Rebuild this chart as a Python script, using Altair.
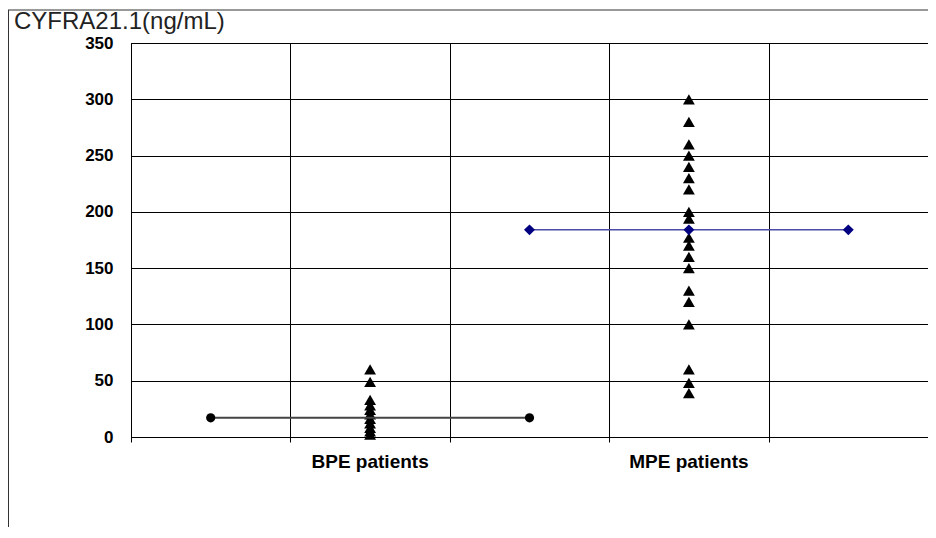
import altair as alt
import pandas as pd

# ---- data ----
groups = ["BPE patients", "MPE patients"]
group_pos = [1.5, 3.5]
bpe_values = [60, 49, 33, 28, 24, 20, 16, 12, 8, 5, 2]
mpe_values = [300, 280, 260, 250, 240, 230, 220, 200, 194, 177, 170, 160,
              150, 130, 120, 100, 60, 48, 39]
bpe_line_x = [0.5, 2.5]
bpe_line_y = [17, 17]
mpe_line_x = [2.5, 3.5, 4.5]
mpe_line_y = [184, 184, 184]
y_ticks = [0, 50, 100, 150, 200, 250, 300, 350]
x_ticks = [0, 1, 2, 3, 4, 5]
y_title = "CYFRA21.1(ng/mL)"

W, H = 797, 394

pts = pd.DataFrame({
    "x": [group_pos[0]] * len(bpe_values) + [group_pos[1]] * len(mpe_values),
    "y": bpe_values + mpe_values,
})
bpe_df = pd.DataFrame({"x": bpe_line_x, "y": bpe_line_y})
mpe_df = pd.DataFrame({"x": mpe_line_x, "y": mpe_line_y})
lab_df = pd.DataFrame({"x": group_pos, "label": groups})
one = pd.DataFrame({"a": [0]})

xscale = alt.Scale(domain=[0, 5], nice=False, zero=False)
yscale = alt.Scale(domain=[0, 350], nice=False)

xaxis = alt.Axis(values=x_ticks, labels=False, title=None, grid=True,
                 gridColor="black", gridWidth=1, tickSize=5, tickColor="black",
                 domainColor="black")
yaxis = alt.Axis(values=y_ticks, title=None, grid=True, gridColor="black",
                 gridWidth=1, tickSize=0, domainColor="black", labelPadding=18,
                 labelFont="Liberation Sans", labelFontWeight="bold",
                 labelFontSize=17, labelColor="black")

base_x = alt.X("x:Q", scale=xscale, axis=xaxis)
base_y = alt.Y("y:Q", scale=yscale, axis=yaxis)

tri = alt.Chart(pts).mark_point(shape="triangle-up", filled=True, color="black",
                                size=140, opacity=1).encode(x=base_x, y=base_y)

bpe_line = alt.Chart(bpe_df).mark_line(color="#444444", strokeWidth=2).encode(
    x=alt.X("x:Q", scale=xscale), y=alt.Y("y:Q", scale=yscale))
bpe_pts = alt.Chart(bpe_df).mark_point(shape="circle", filled=True, color="black",
                                       size=85, opacity=1).encode(
    x=alt.X("x:Q", scale=xscale), y=alt.Y("y:Q", scale=yscale))

mpe_line = alt.Chart(mpe_df).mark_line(color="#4b4ba8", strokeWidth=1.5).encode(
    x=alt.X("x:Q", scale=xscale), y=alt.Y("y:Q", scale=yscale))
mpe_pts = alt.Chart(mpe_df).mark_point(shape="diamond", filled=True, color="#000080",
                                       size=120, opacity=1).encode(
    x=alt.X("x:Q", scale=xscale), y=alt.Y("y:Q", scale=yscale))

labels = alt.Chart(lab_df).mark_text(font="Liberation Sans", fontWeight="bold",
                                     fontSize=19, color="black", baseline="middle",
                                     align="center").encode(
    x=alt.X("x:Q", scale=xscale), y=alt.value(H + 25), text="label:N")

title = alt.Chart(one).mark_text(font="Liberation Sans", fontSize=24, color="#222222",
                                 align="left", baseline="middle").encode(
    x=alt.value(-117), y=alt.value(-21), text=alt.value(y_title))

frame_top = alt.Chart(one).mark_rule(color="#333333", strokeWidth=1).encode(
    x=alt.value(-123), x2=alt.value(W + 20), y=alt.value(-33))
frame_left = alt.Chart(one).mark_rule(color="#333333", strokeWidth=1).encode(
    x=alt.value(-122.5), y=alt.value(-33), y2=alt.value(H + 120))

chart = alt.layer(tri, bpe_line, bpe_pts, mpe_line, mpe_pts, labels, title,
                  frame_top, frame_left).properties(
    width=W, height=H,
    autosize=alt.AutoSizeParams(type="none"),
    padding={"left": 123, "top": 35, "right": 0, "bottom": 90},
    background="white",
).configure_view(stroke="black", strokeWidth=1)

chart.save("out.html", embed_options={"renderer": "svg", "actions": False})
